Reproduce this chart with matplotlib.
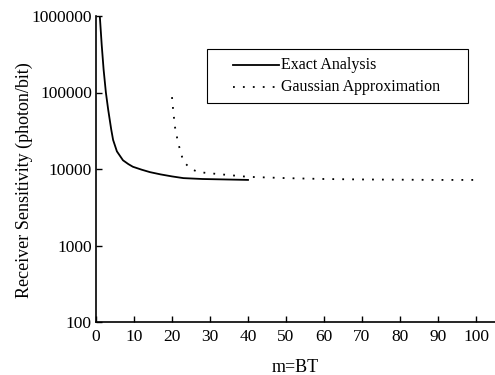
import matplotlib
matplotlib.use("Agg")
import matplotlib.pyplot as plt
from matplotlib.ticker import FixedLocator, FixedFormatter, NullLocator
from matplotlib.patches import Rectangle
from matplotlib.lines import Line2D

plt.rcParams['font.family'] = ['Liberation Serif', 'DejaVu Serif']

# Exact analysis
exact_m = [1, 1.5, 2, 2.6, 3.2, 4, 4.5, 5.5, 7.1, 8.5, 9.7, 12, 14.2, 17, 20, 23, 28, 34, 40]
exact_s = [1000000, 420000, 200000, 100000, 60000, 33000, 24000, 17000, 13000, 11600, 10700, 9800,
           9100, 8500, 8000, 7600, 7400, 7300, 7200]

# Gaussian approximation
gauss_m = [20, 20.3, 20.8, 21.6, 23, 25, 27, 32, 40, 50, 60, 70, 80, 90, 100]
gauss_s = [87000, 59000, 35000, 22000, 12500, 10000, 9100, 8600, 7900, 7600, 7400, 7300, 7250, 7200, 7200]

labels = ['Exact Analysis', 'Gaussian Approximation']
xticks = [0, 10, 20, 30, 40, 50, 60, 70, 80, 90, 100]
yticks = [100, 1000, 10000, 100000, 1000000]
ytick_labels = ['100', '1000', '10000', '100000', '1000000']

W, H = 495, 375
fig = plt.figure(figsize=(W/100, H/100), dpi=100)
ax = fig.add_axes([96/W, 53/H, 399/W, 306/H])

dotted = (0, (1, 4.5))
ax.plot(exact_m, exact_s, color='black', lw=1.3)
ax.plot(gauss_m, gauss_s, color='black', lw=1.3, linestyle=dotted)

ax.set_yscale('log')
ax.set_xlim(0, 105)
ax.set_ylim(100, 1000000)
ax.xaxis.set_major_locator(FixedLocator(xticks))
ax.yaxis.set_major_locator(FixedLocator(yticks))
ax.yaxis.set_major_formatter(FixedFormatter(ytick_labels))
ax.yaxis.set_minor_locator(NullLocator())
ax.tick_params(direction='in', length=4, width=1, labelsize=12.5, colors='black')
ax.tick_params(axis='x', pad=5)
ax.tick_params(axis='y', pad=3)

for s in ['top', 'right']:
    ax.spines[s].set_visible(False)
for s in ['left', 'bottom']:
    ax.spines[s].set_linewidth(1.2)

ax.set_xlabel('m=BT', fontsize=13, labelpad=10)
ax.set_ylabel('Receiver Sensitivity (photon/bit)', fontsize=13)
ax.yaxis.set_label_coords((33 - 96) / 399, (322 - 180) / 306)

# manual legend (figure pixel coords -> figure fraction)
def fx(px):
    return px / W

def fy(py):
    return 1 - py / H

fig.patches.append(Rectangle((fx(207), fy(103)), fx(468) - fx(207), fy(49) - fy(103),
                             transform=fig.transFigure, fill=False, edgecolor='black', lw=0.8))
for i, (lab, ls) in enumerate(zip(labels, ['-', dotted])):
    yy = fy(65 + 22 * i)
    fig.lines.append(Line2D([fx(233), fx(279)], [yy, yy], transform=fig.transFigure,
                            color='black', lw=1.3, linestyle=ls))
    fig.text(fx(281), yy, lab, fontsize=11.5, va='center', ha='left')

fig.savefig('out.png', dpi=100)
